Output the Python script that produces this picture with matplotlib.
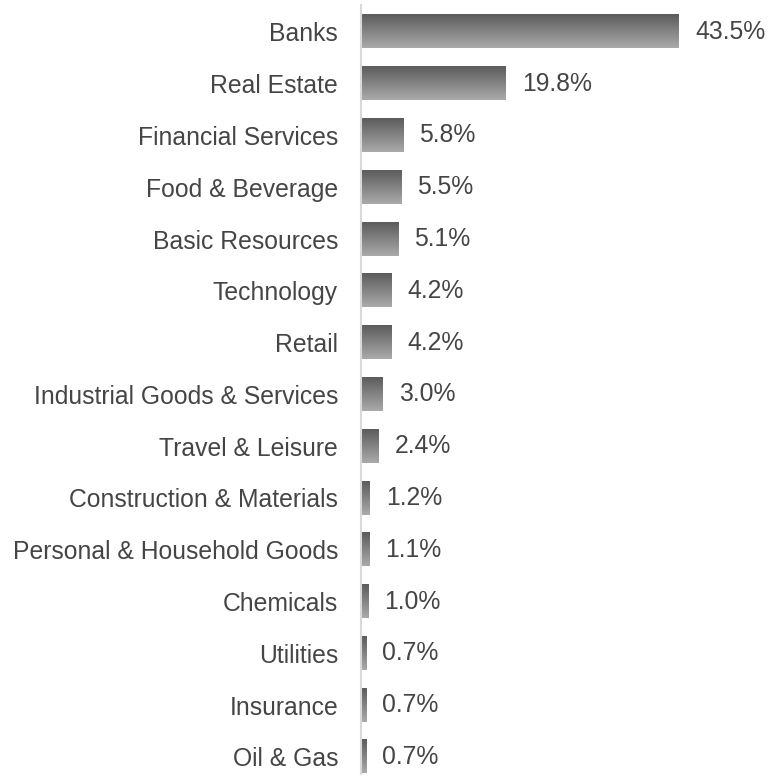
import numpy as np
import matplotlib
matplotlib.use('Agg')
import matplotlib.pyplot as plt
from matplotlib.colors import LinearSegmentedColormap

sectors = ['Banks', 'Real Estate', 'Financial Services', 'Food & Beverage',
           'Basic Resources', 'Technology', 'Retail', 'Industrial Goods & Services',
           'Travel & Leisure', 'Construction & Materials', 'Personal & Household Goods',
           'Chemicals', 'Utilities', 'Insurance', 'Oil & Gas']
shares = [43.5, 19.8, 5.8, 5.5, 5.1, 4.2, 4.2, 3.0, 2.4, 1.2, 1.1, 1.0, 0.7, 0.7, 0.7]

plt.rcParams['font.family'] = ['Liberation Sans', 'DejaVu Sans']

fig = plt.figure(figsize=(7.68, 7.75), dpi=100)
ax = fig.add_axes([361 / 768, 0, 1 - 361 / 768, 1 - 5 / 775])

cmap = LinearSegmentedColormap.from_list('g', ['#5c5c5c', '#aaaaaa'])
grad = np.linspace(0, 1, 64).reshape(-1, 1)
h = 0.64
y = np.arange(len(sectors))

for i, v in enumerate(shares):
    ax.imshow(grad, cmap=cmap, aspect='auto', interpolation='bilinear',
              extent=[0, v, y[i] + h / 2, y[i] - h / 2], origin='upper')
    ax.text(v + 2.2, y[i], '{:.1f}%'.format(v), va='center', ha='left',
            fontsize=17.8, color='#454545')

ax.set_xlim(0, (768 - 361) / 7.31)
ax.set_ylim(len(sectors) - 1 + 0.35, -0.52)
ax.set_yticks(y)
ax.set_yticklabels(sectors, fontsize=17.8, color='#454545')
ax.tick_params(axis='y', length=0, pad=16.5)
ax.set_xticks([])
for s in ['top', 'right', 'bottom']:
    ax.spines[s].set_visible(False)
ax.spines['left'].set_color('#d9d9d9')
ax.spines['left'].set_linewidth(1.5)

fig.savefig('out.png', dpi=100)
